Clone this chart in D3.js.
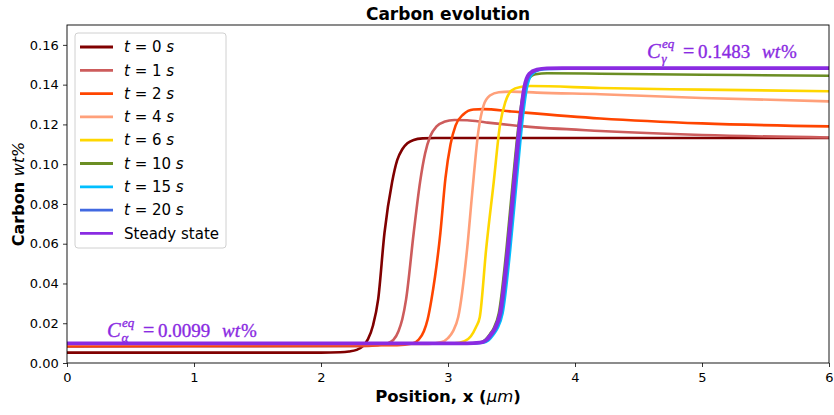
<!DOCTYPE html>
<html>
<head>
<meta charset="utf-8">
<script src="https://cdn.jsdelivr.net/npm/d3@7/dist/d3.min.js"></script>
<style>
  body { margin: 0; background: #fff; }
  svg { display: block; font-family: "DejaVu Sans", sans-serif; }
</style>
</head>
<body>
<div id="chart"></div>
<script>
// 곡선 데이터: [위치 x (μm), 탄소 wt%] - 그림에서 읽은 값
const t0 = [[0,0.0052],[2.0,0.0052],[2.15,0.0054],[2.22,0.0058],[2.28,0.0066],[2.33,0.0085],[2.37,0.012],[2.41,0.019],[2.45,0.032],[2.5,0.0655],[2.56,0.091],[2.6,0.102],[2.64,0.1075],[2.68,0.1105],[2.73,0.1122],[2.8,0.113],[2.9,0.1132],[6.0,0.1132]];
const t1 = [[0,0.0082],[2.3,0.0085],[2.45,0.009],[2.52,0.0098],[2.57,0.0116],[2.61,0.016],[2.64,0.022],[2.67,0.032],[2.73,0.0655],[2.78,0.091],[2.82,0.1055],[2.86,0.114],[2.91,0.119],[2.97,0.1213],[3.05,0.1222],[3.15,0.1221],[3.3,0.121],[3.6,0.119],[4.2,0.1167],[5.0,0.1147],[6.0,0.1134]];
const t2 = [[0,0.0086],[2.6,0.009],[2.72,0.0098],[2.77,0.0118],[2.81,0.016],[2.84,0.022],[2.87,0.032],[2.94,0.0655],[2.98,0.093],[3.02,0.11],[3.06,0.1195],[3.12,0.125],[3.2,0.1275],[3.28,0.1277],[3.5,0.1265],[4.2,0.123],[5.0,0.1205],[6.0,0.119]];
const t4 = [[0,0.0095],[2.85,0.0096],[2.95,0.0105],[3.0,0.0125],[3.04,0.016],[3.08,0.023],[3.15,0.057],[3.19,0.085],[3.24,0.117],[3.28,0.1295],[3.33,0.1345],[3.4,0.1362],[3.5,0.1365],[3.7,0.136],[4.2,0.1352],[5.0,0.1333],[6.0,0.1316]];
const t6 = [[0,0.0099],[3.05,0.0099],[3.13,0.011],[3.18,0.0135],[3.22,0.018],[3.25,0.023],[3.3,0.057],[3.36,0.091],[3.41,0.12],[3.45,0.131],[3.5,0.137],[3.57,0.1388],[3.65,0.1393],[4.2,0.1383],[5.0,0.1375],[6.0,0.1367]];
const t10 = [[0,0.0099],[3.14,0.0099],[3.24,0.0102],[3.29,0.0115],[3.33,0.0145],[3.36,0.0175],[3.4,0.025],[3.46,0.057],[3.51,0.091],[3.56,0.122],[3.59,0.135],[3.63,0.1425],[3.69,0.1452],[3.78,0.1457],[4.2,0.1455],[5.0,0.145],[6.0,0.1445]];
const t15 = [[0,0.0099],[3.17,0.0099],[3.27,0.0102],[3.32,0.0115],[3.36,0.0145],[3.39,0.0175],[3.43,0.025],[3.49,0.057],[3.54,0.091],[3.59,0.124],[3.62,0.138],[3.66,0.1452],[3.72,0.1474],[3.8,0.1479],[3.95,0.148],[6.0,0.148]];
const t20 = [[0,0.0099],[3.16,0.0099],[3.26,0.0102],[3.31,0.0115],[3.35,0.0145],[3.38,0.0175],[3.42,0.025],[3.48,0.057],[3.53,0.091],[3.58,0.124],[3.61,0.1385],[3.65,0.1453],[3.71,0.1475],[3.79,0.1481],[3.92,0.1482],[6.0,0.1482]];
const steady = [[0,0.0099],[3.15,0.0099],[3.25,0.0102],[3.3,0.0115],[3.34,0.0145],[3.37,0.0175],[3.41,0.025],[3.47,0.057],[3.52,0.091],[3.57,0.124],[3.6,0.1385],[3.64,0.1455],[3.7,0.1476],[3.78,0.1482],[3.9,0.1483],[6.0,0.1483]];

const seriesData = [t0, t1, t2, t4, t6, t10, t15, t20, steady];
const seriesTimes = ['0', '1', '2', '4', '6', '10', '15', '20', null];
const seriesColors = ['#800000', '#cd5c5c', '#ff4500', '#ffa07a', '#ffd700', '#6b8e23', '#00bfff', '#4169e1', '#8a2be2'];

const xTicks = [0, 1, 2, 3, 4, 5, 6];
const yTicks = [0, 0.02, 0.04, 0.06, 0.08, 0.10, 0.12, 0.14, 0.16];

const width = 834, height = 415;
const margin = { top: 25, right: 5, bottom: 52, left: 67 };

const svg = d3.select('#chart').append('svg')
    .attr('width', width)
    .attr('height', height);

const x = d3.scaleLinear().domain([0, 6]).range([margin.left, width - margin.right]);
const y = d3.scaleLinear().domain([0, 0.17]).range([height - margin.bottom, margin.top]);

// 클립 영역
svg.append('defs').append('clipPath').attr('id', 'plot-clip')
    .append('rect')
    .attr('x', margin.left).attr('y', margin.top)
    .attr('width', x(6) - margin.left).attr('height', y(0) - margin.top);

// 축
const xAxis = svg.append('g')
    .attr('transform', `translate(0,${y(0)})`)
    .call(d3.axisBottom(x).tickValues(xTicks).tickFormat(d3.format('d')).tickSizeOuter(0).tickSize(4));
const yAxis = svg.append('g')
    .attr('transform', `translate(${margin.left},0)`)
    .call(d3.axisLeft(y).tickValues(yTicks).tickFormat(d3.format('.2f')).tickSizeOuter(0).tickSize(4));

[xAxis, yAxis].forEach(a => {
    a.select('.domain').remove();
    a.selectAll('text').style('font-size', '13px').style('fill', '#000').style('font-family', '"DejaVu Sans", sans-serif');
    a.selectAll('line').style('stroke', '#000').style('stroke-width', 0.8);
});
xAxis.selectAll('text').attr('dy', '0.9em');
yAxis.selectAll('text').attr('dx', '-0.1em');

// 곡선
const line = d3.line()
    .x(d => x(d[0]))
    .y(d => y(d[1]))
    .curve(d3.curveMonotoneX);

const lines = svg.append('g').attr('clip-path', 'url(#plot-clip)');
seriesData.forEach((s, i) => {
    lines.append('path')
        .datum(s)
        .attr('d', line)
        .style('fill', 'none')
        .style('stroke', seriesColors[i])
        .style('stroke-width', i === 8 ? 3.8 : 2.6)
        .style('stroke-linejoin', 'round');
});

// 테두리
svg.append('rect')
    .attr('x', margin.left).attr('y', margin.top)
    .attr('width', x(6) - margin.left).attr('height', y(0) - margin.top)
    .style('fill', 'none').style('stroke', '#000').style('stroke-width', 0.9);

// 제목 및 라벨
svg.append('text')
    .attr('x', (x(0) + x(6)) / 2).attr('y', 20)
    .attr('text-anchor', 'middle')
    .style('font-size', '17px').style('font-weight', 'bold')
    .text('Carbon evolution');

const xl = svg.append('text')
    .attr('x', (x(0) + x(6)) / 2).attr('y', 402)
    .attr('text-anchor', 'middle')
    .style('font-size', '16.5px').style('font-weight', 'bold');
xl.append('tspan').text('Position, x (');
xl.append('tspan').style('font-weight', 'normal').style('font-style', 'italic').text('μm');
xl.append('tspan').text(')');

const yl = svg.append('text')
    .attr('transform', `translate(24,${(y(0) + y(0.17)) / 2}) rotate(-90)`)
    .attr('text-anchor', 'middle')
    .style('font-size', '16px').style('font-weight', 'bold');
yl.append('tspan').text('Carbon ');
yl.append('tspan').style('font-weight', 'normal').style('font-style', 'italic').text('wt%');

// 범례
const legend = svg.append('g').attr('transform', 'translate(75,33)');
legend.append('rect')
    .attr('width', 151).attr('height', 215)
    .attr('rx', 3)
    .style('fill', '#fff').style('fill-opacity', 0.85)
    .style('stroke', '#d0d0d0').style('stroke-width', 1);

seriesData.forEach((s, i) => {
    const row = legend.append('g').attr('transform', `translate(0,${14 + i * 23.3})`);
    row.append('line')
        .attr('x1', 5).attr('x2', 38)
        .style('stroke', seriesColors[i])
        .style('stroke-width', 2.8);
    const label = row.append('text')
        .attr('x', 49).attr('dy', '0.35em')
        .style('font-size', '15px');
    if (seriesTimes[i] === null) {
        label.text('Steady state');
    } else {
        label.append('tspan').style('font-style', 'italic').text('t');
        label.append('tspan').text(` = ${seriesTimes[i]} `);
        label.append('tspan').style('font-style', 'italic').text('s');
    }
});

// 평형 농도 주석 (수식 부분별 배치)
function eqLabel(px, py, sub, value) {
    const g = svg.append('g')
        .attr('transform', `translate(${px},${py})`)
        .style('font-family', '"Liberation Serif", serif')
        .style('fill', '#8a2be2')
        .style('stroke', '#8a2be2')
        .style('stroke-width', 0.35);
    g.append('text').style('font-size', '20.5px').style('font-style', 'italic').text('C');
    g.append('text').attr('x', 15).attr('y', -10).style('font-size', '13px').style('font-style', 'italic').text('eq');
    g.append('text').attr('x', 14.5).attr('y', 5).style('font-size', '13px').style('font-style', 'italic').text(sub);
    g.append('text').attr('x', 36).style('font-size', '20px').text('=');
    g.append('text').attr('x', 51).style('font-size', '19px').text(value);
    g.append('text').attr('x', 115).style('font-size', '19px').style('font-style', 'italic').text('wt');
    g.append('text').attr('x', 134).style('font-size', '19px').text('%');
}
eqLabel(647, 57.5, 'γ', '0.1483');
eqLabel(107, 337, 'α', '0.0099');
</script>
</body>
</html>
